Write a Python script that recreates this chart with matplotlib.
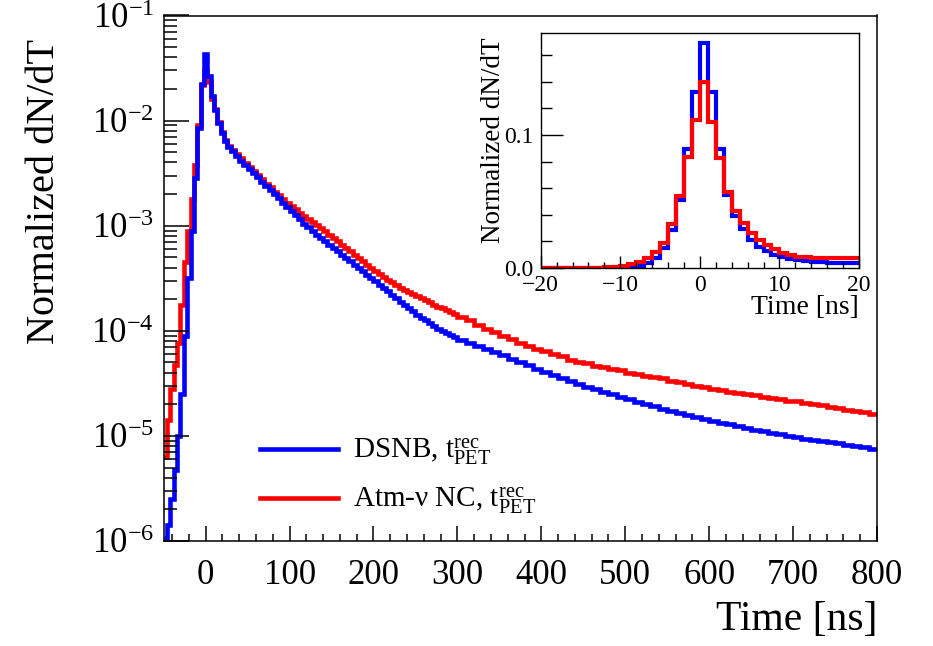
import numpy as np
import matplotlib
matplotlib.use("Agg")
import matplotlib.pyplot as plt
from matplotlib.ticker import MultipleLocator, LogLocator, NullFormatter, FixedLocator

plt.rcParams['font.family'] = ['Liberation Serif', 'DejaVu Serif']
plt.rcParams['mathtext.fontset'] = 'custom'
plt.rcParams['mathtext.rm'] = 'Liberation Serif'
plt.rcParams['mathtext.it'] = 'Liberation Serif:italic'
plt.rcParams['mathtext.default'] = 'regular'

# Main histogram bins: 4 ns (-50..30), 5 ns (30..300), 10 ns (300..800); values are log10
edges_main = np.concatenate([np.arange(-50, 31, 4), np.arange(35, 301, 5), np.arange(310, 801, 10)])

dsnb_log = [
    # -50 .. 30
    -5.97, -5.85, -5.60, -5.32, -5.00, -4.60, -4.05, -3.50, -3.05, -2.55,
    -2.07, -1.65, -1.37, -1.58, -1.77, -1.90, -2.02, -2.12, -2.19, -2.25,
    # 30 .. 300
    -2.29, -2.335, -2.38, -2.42, -2.46, -2.50, -2.54, -2.58, -2.62, -2.66,
    -2.70, -2.74, -2.78, -2.82, -2.86, -2.90, -2.94, -2.98, -3.015, -3.05,
    -3.085, -3.12, -3.15, -3.18, -3.21, -3.24, -3.275, -3.305, -3.34, -3.37,
    -3.405, -3.435, -3.47, -3.50, -3.53, -3.56, -3.595, -3.625, -3.66, -3.69,
    -3.725, -3.755, -3.785, -3.815, -3.845, -3.875, -3.90, -3.93, -3.955, -3.98,
    -4.00, -4.02, -4.04, -4.06,
    # 300 .. 800
    -4.085, -4.115, -4.145, -4.175, -4.205, -4.235, -4.265, -4.295, -4.33, -4.365,
    -4.395, -4.425, -4.45, -4.48, -4.505, -4.53, -4.555, -4.58, -4.605, -4.63,
    -4.65, -4.675, -4.70, -4.72, -4.74, -4.76, -4.78, -4.80, -4.82, -4.84,
    -4.86, -4.875, -4.89, -4.91, -4.925, -4.94, -4.955, -4.97, -4.985, -5.00,
    -5.01, -5.025, -5.035, -5.05, -5.06, -5.07, -5.085, -5.095, -5.105, -5.12,
]
atm_log = [
    # -50 .. 30
    -5.20, -4.85, -4.55, -4.33, -4.12, -3.75, -3.35, -3.05, -2.75, -2.42,
    -2.04, -1.66, -1.52, -1.63, -1.79, -1.89, -2.01, -2.11, -2.18, -2.24,
    # 30 .. 300
    -2.28, -2.32, -2.36, -2.40, -2.44, -2.48, -2.52, -2.555, -2.60, -2.635,
    -2.675, -2.71, -2.745, -2.78, -2.815, -2.845, -2.875, -2.905, -2.935, -2.965,
    -2.995, -3.025, -3.055, -3.085, -3.115, -3.145, -3.18, -3.21, -3.245, -3.275,
    -3.31, -3.34, -3.37, -3.40, -3.43, -3.46, -3.485, -3.515, -3.54, -3.565,
    -3.59, -3.61, -3.63, -3.65, -3.67, -3.69, -3.71, -3.73, -3.75, -3.77,
    -3.785, -3.80, -3.82, -3.84,
    # 300 .. 800
    -3.87, -3.90, -3.945, -3.985, -4.015, -4.05, -4.08, -4.115, -4.14, -4.17,
    -4.195, -4.225, -4.24, -4.275, -4.295, -4.31, -4.335, -4.345, -4.365, -4.375,
    -4.40, -4.41, -4.43, -4.44, -4.45, -4.475, -4.49, -4.505, -4.525, -4.535,
    -4.555, -4.565, -4.58, -4.59, -4.605, -4.61, -4.63, -4.64, -4.65, -4.665,
    -4.67, -4.69, -4.70, -4.705, -4.725, -4.73, -4.75, -4.76, -4.775, -4.79,
]

# Inset: 1 ns bins from -20 to 20
edges_inset = np.arange(-20, 21, 1)
dsnb_inset = [
    0, 0, 0, 0, 0, 0, 0, 0, 0, 0.0001,
    0.0003, 0.0007, 0.0015, 0.0037, 0.0073, 0.015, 0.0286, 0.051, 0.0897, 0.132,
    0.169, 0.132, 0.0897, 0.055, 0.039, 0.029, 0.021, 0.016, 0.0125, 0.010,
    0.008, 0.0068, 0.0058, 0.005, 0.0045, 0.0042, 0.004, 0.004, 0.004, 0.004,
]
atm_inset = [
    0, 0, 0, 0, 0, 0, 0, 0, 0.0005, 0.0008,
    0.0015, 0.0027, 0.0045, 0.0075, 0.012, 0.0188, 0.0328, 0.054, 0.0835, 0.111,
    0.140, 0.110, 0.083, 0.0575, 0.0425, 0.034, 0.026, 0.021, 0.0175, 0.014,
    0.011, 0.010, 0.0085, 0.008, 0.0075, 0.0073, 0.0072, 0.0072, 0.0072, 0.0072,
]

W, H = 933, 646
fig = plt.figure(figsize=(W / 100, H / 100), dpi=100)

# main axes
ax = fig.add_axes([163.7 / W, 1 - 541 / H, (877 - 163.7) / W, (541 - 15.5) / H])
ax.stairs(10 ** np.array(atm_log), edges_main, color='#ff0000', linewidth=3.3, baseline=None)
ax.stairs(10 ** np.array(dsnb_log), edges_main, color='#0000ff', linewidth=3.3, baseline=None)
ax.set_yscale('log')
ax.set_xlim(-50, 800)
ax.set_ylim(1e-6, 1e-1)
ax.xaxis.set_major_locator(MultipleLocator(100))
ax.xaxis.set_minor_locator(MultipleLocator(20))
ax.yaxis.set_major_locator(LogLocator(base=10, numticks=10))
ax.yaxis.set_minor_locator(LogLocator(base=10, subs=np.arange(2, 10), numticks=20))
ax.yaxis.set_minor_formatter(NullFormatter())
ax.tick_params(axis='both', which='both', direction='in', top=False, right=False, width=1.1)
ax.tick_params(axis='x', which='major', length=11, labelsize=25, pad=13)
ax.tick_params(axis='x', which='minor', length=5)
ax.tick_params(axis='y', which='major', length=18, labelsize=25, pad=7)
ax.tick_params(axis='y', which='minor', length=9)
for s in ax.spines.values():
    s.set_linewidth(1.1)

fig.text(877 / W, 1 - 620 / H, 'Time [ns]', fontsize=30, ha='right', va='center')
fig.text(45 / W, 1 - 192 / H, 'Normalized dN/dT', fontsize=29, rotation=90, ha='center', va='center')

leg_lines = [plt.Line2D([], [], color='#0000ff', linewidth=3.3),
             plt.Line2D([], [], color='#ff0000', linewidth=3.3)]
ax.legend(leg_lines, ['DSNB, $t^{rec}_{PET}$', 'Atm-ν NC, $t^{rec}_{PET}$'],
          loc='center left', bbox_to_anchor=(245 / W, 1 - 477 / H), bbox_transform=fig.transFigure,
          frameon=False, fontsize=21, handlelength=2.7, handletextpad=0.5,
          labelspacing=0.62, borderpad=0)

# inset
axi = fig.add_axes([540.7 / W, 1 - 268 / H, (859 - 540.7) / W, (268 - 33) / H])
axi.stairs(dsnb_inset, edges_inset, color='#0000ff', linewidth=3.0, baseline=None)
axi.stairs(atm_inset, edges_inset, color='#ff0000', linewidth=3.0, baseline=None)
axi.set_xlim(-20, 20)
axi.set_ylim(0, 0.1767)
axi.xaxis.set_major_locator(MultipleLocator(10))
axi.xaxis.set_minor_locator(MultipleLocator(2))
axi.yaxis.set_major_locator(FixedLocator([0.0, 0.1]))
axi.yaxis.set_minor_locator(MultipleLocator(0.02))
axi.set_yticklabels(['0.0', '0.1'])
axi.tick_params(axis='both', which='both', direction='in', top=False, right=False, width=1.0)
axi.tick_params(axis='x', which='major', length=9, labelsize=17, pad=5)
axi.tick_params(axis='x', which='minor', length=4)
axi.tick_params(axis='y', which='major', length=16, labelsize=17, pad=5)
axi.tick_params(axis='y', which='minor', length=8)
for s in axi.spines.values():
    s.set_linewidth(1.0)
fig.text(859 / W, 1 - 308 / H, 'Time [ns]', fontsize=20, ha='right', va='center')
fig.text(493 / W, 1 - 140 / H, 'Normalized dN/dT', fontsize=19.5, rotation=90, ha='center', va='center')

fig.savefig('out.png', dpi=100)
